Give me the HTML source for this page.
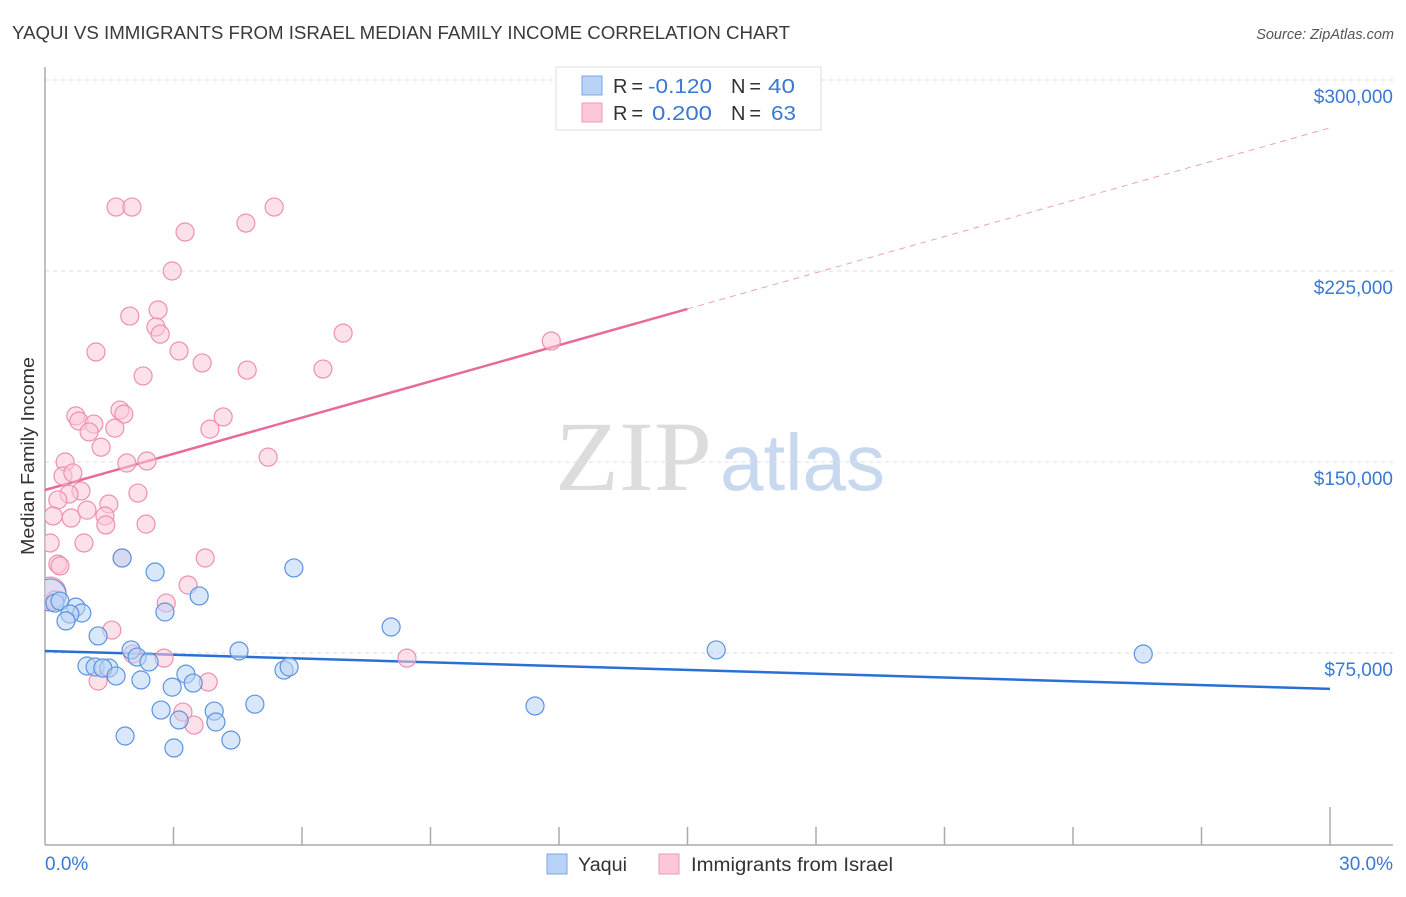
<!DOCTYPE html>
<html><head><meta charset="utf-8">
<style>
body{margin:0;background:#fff;font-family:"Liberation Sans",sans-serif;}
svg text{font-family:"Liberation Sans",sans-serif;}
</style></head>
<body>
<svg id="chart" width="1406" height="892" xmlns="http://www.w3.org/2000/svg">
<text x="12" y="39" font-size="18" fill="#3a3a3a" textLength="778" lengthAdjust="spacingAndGlyphs">YAQUI VS IMMIGRANTS FROM ISRAEL MEDIAN FAMILY INCOME CORRELATION CHART</text>
<text x="1394" y="39" font-size="14.5" fill="#555" text-anchor="end" font-style="italic">Source: ZipAtlas.com</text>
<text x="555" y="490" font-size="100"><tspan fill="#dcdcdc" font-family="Liberation Serif" textLength="157" lengthAdjust="spacingAndGlyphs">ZIP</tspan><tspan fill="#c8d9ef" font-size="80" dx="8" textLength="165" lengthAdjust="spacingAndGlyphs">atlas</tspan></text>
<g id="grid"></g>
<g id="axes"></g>
<g id="trends"></g>
<defs><clipPath id="plotclip"><rect x="45" y="60" width="1360" height="785"/></clipPath></defs>
<g id="points" clip-path="url(#plotclip)"></g>
<text transform="translate(34,456) rotate(-90)" font-size="18" fill="#333" text-anchor="middle" textLength="198" lengthAdjust="spacingAndGlyphs">Median Family Income</text>
<g>
<rect x="556" y="67" width="265" height="63" fill="#fff" stroke="#ddd"/>
<rect x="582" y="76" width="20" height="19" fill="#b9d3f6" stroke="#7aa7e6"/>
<rect x="582" y="103" width="20" height="19" fill="#fcc8d8" stroke="#f09ab5"/>
<text x="613" y="93" font-size="20" fill="#333"><tspan textLength="30">R =</tspan><tspan x="648" fill="#3a78d4" textLength="64" lengthAdjust="spacingAndGlyphs">-0.120</tspan><tspan x="731" textLength="30">N =</tspan><tspan x="768" fill="#3a78d4" textLength="27" lengthAdjust="spacingAndGlyphs">40</tspan></text>
<text x="613" y="120" font-size="20" fill="#333"><tspan textLength="30">R =</tspan><tspan fill="#3a78d4" x="652" textLength="60" lengthAdjust="spacingAndGlyphs">0.200</tspan><tspan x="731" textLength="30">N =</tspan><tspan fill="#3a78d4" x="771" textLength="25" lengthAdjust="spacingAndGlyphs">63</tspan></text>
</g>
<g>
<rect x="547" y="854" width="20" height="20" fill="#b9d3f6" stroke="#7aa7e6"/>
<text x="578" y="871" font-size="19" fill="#333" textLength="49" lengthAdjust="spacingAndGlyphs">Yaqui</text>
<rect x="659" y="854" width="20" height="20" fill="#fcc8d8" stroke="#f09ab5"/>
<text x="691" y="871" font-size="19" fill="#333" textLength="202" lengthAdjust="spacingAndGlyphs">Immigrants from Israel</text>
</g>
</svg>
<script>
const yTicks=[75000,150000,225000,300000];
const yTickLabels=["$75,000","$150,000","$225,000","$300,000"];
const xTickCount=[0,3,6,9,12,15,18,21,24,27,30];
const xEndLabels=["0.0%","30.0%"];
const yaquiX=[0.12,0.23,0.35,0.72,0.86,0.58,0.49,1.24,1.80,2.57,5.81,3.60,2.80,8.08,2.01,2.15,2.43,4.53,15.67,25.64,0.98,1.17,1.49,1.35,1.66,3.29,5.58,5.70,2.24,2.97,3.46,4.90,2.71,3.95,3.13,3.99,11.44,1.87,4.34,3.01];
const yaquiY=[97.8,94.6,95.4,93.0,90.7,90.3,87.6,81.7,112.3,106.8,108.4,97.4,91.1,85.2,76.2,73.4,71.5,75.8,76.2,74.6,69.9,69.5,69.1,69.1,66.0,66.7,68.3,69.5,64.4,61.6,63.2,54.9,52.6,52.2,48.7,47.9,54.2,42.4,40.8,37.7];
const israelX=[1.66,2.03,5.35,3.27,4.69,2.97,2.64,1.98,2.59,2.69,6.96,11.82,1.19,3.13,3.67,2.29,4.72,6.49,1.75,1.84,0.72,0.79,1.14,1.03,1.63,4.16,3.85,1.31,5.21,1.91,2.38,0.47,0.42,0.65,0.84,0.56,0.30,2.17,0.98,1.49,0.19,0.61,1.40,1.42,2.36,0.91,0.12,0.30,0.35,1.80,3.74,3.34,2.83,1.56,2.05,2.78,8.45,1.24,3.81,3.22,3.48,0.12,0.23];
const israelY=[250.1,250.1,250.1,240.3,243.8,225.0,209.7,207.3,203.0,200.2,200.6,197.5,193.2,193.6,188.9,183.8,186.1,186.5,170.4,168.8,168.1,166.1,164.9,161.8,163.3,167.7,162.9,155.8,151.9,149.6,150.4,150.0,144.5,145.7,138.6,137.4,135.1,137.8,131.1,133.5,128.8,128.0,128.8,125.3,125.6,118.2,118.2,109.9,109.2,112.3,112.3,101.7,94.6,84.0,74.6,73.0,73.0,64.0,63.6,51.8,46.7,98.5,95.8];
const yaquiTrend=[[0,75.8],[30,60.9]];
const israelTrendSolid=[[0,139.0],[15,210.1]];
const israelTrendDash=[[15,210.1],[30,281.2]];

const NS="http://www.w3.org/2000/svg";
const xs=v=>45+v/30*1285;
const ys=v=>80+(300000-v)*191/75000;
const yk=v=>ys(v*1000);
function mk(tag,attrs,parent){const e=document.createElementNS(NS,tag);for(const k in attrs)e.setAttribute(k,attrs[k]);parent.appendChild(e);return e;}
const grid=document.getElementById('grid'),axes=document.getElementById('axes'),trends=document.getElementById('trends'),pts=document.getElementById('points');
yTicks.forEach((t,i)=>{
 const l=mk('line',{x1:45,x2:1393,y1:ys(t),y2:ys(t),stroke:'#ddd','stroke-dasharray':'4,4'},grid);
 
 
 const tx=mk('text',{x:1393,y:ys(t)+23,'font-size':19,fill:'#3a78d4','text-anchor':'end'},axes);
 tx.textContent=yTickLabels[i];
 
 
});
const ya=mk('line',{x1:45,x2:45,y1:67,y2:845,stroke:'#aaa','stroke-width':1.5},axes);


const xa=mk('line',{x1:45,x2:1393,y1:845,y2:845,stroke:'#aaa','stroke-width':1.5},axes);


xTickCount.forEach((t,i)=>{
 if(i===0)return;
 const tk=mk('line',{x1:xs(t),x2:xs(t),y1:i===xTickCount.length-1?807:827,y2:845,stroke:'#aaa','stroke-width':1.5},axes);
 
 
});
const xl0=mk('text',{x:45,y:870,'font-size':19,fill:'#3a78d4'},axes);xl0.textContent=xEndLabels[0];


const xl1=mk('text',{x:1393,y:870,'font-size':19,fill:'#3a78d4','text-anchor':'end'},axes);xl1.textContent=xEndLabels[1];



function drawPts(X,Y,fill,stroke,name){
 X.forEach((x,i)=>{
  const big=(i===0&&name==='yaqui-point')||(i===X.length-2&&name==='israel-point');
  const c=mk('circle',{cx:xs(x),cy:yk(Y[i]),r:big?16:9,fill:fill,'fill-opacity':big?0.45:0.55,stroke:stroke,'stroke-width':1.2},pts);
  
  
 });
}
drawPts(israelX,israelY,'#fcc8d8','#ef8fae','israel-point');
drawPts(yaquiX,yaquiY,'#b9d3f6','#5d93df','yaqui-point');

function tl(p,stroke,w,dash,name){
 const l=mk('line',{x1:xs(p[0][0]),y1:yk(p[0][1]),x2:xs(p[1][0]),y2:yk(p[1][1]),stroke:stroke,'stroke-width':w},trends);
 if(dash)l.setAttribute('stroke-dasharray',dash);
 
 
}
tl(yaquiTrend,'#2a6fd6',2.5,null,'yaqui-trend-line');
tl(israelTrendSolid,'#e8699a',2.5,null,'israel-trend-line');
tl(israelTrendDash,'#eda0bb',1,'6,5','israel-trend-extension');
</script>
</body></html>
